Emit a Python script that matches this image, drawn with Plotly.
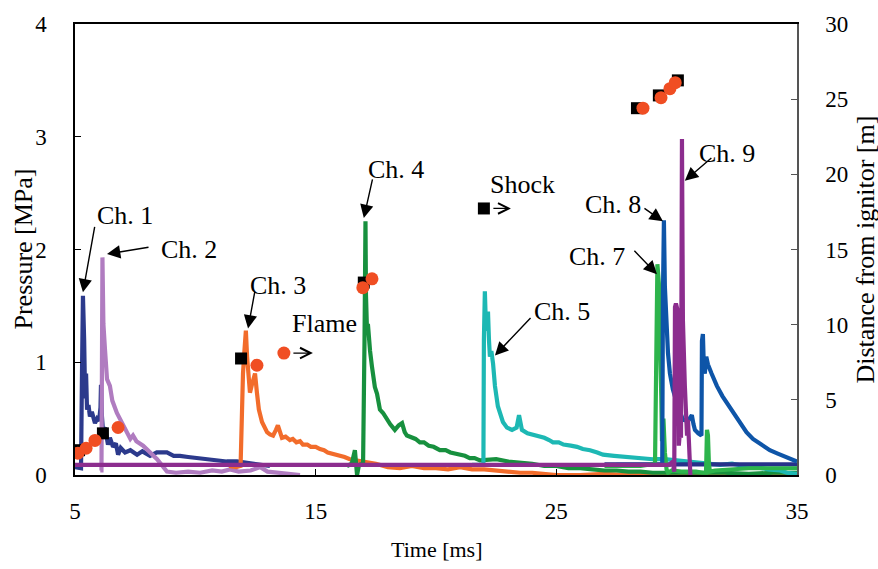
import plotly.graph_objects as go

# ---------------- data (time in ms, pressure in MPa) ----------------
ch1_t = [5.00, 5.15, 5.25, 5.29, 5.33, 5.38, 5.42, 5.46, 5.50, 5.56, 5.62, 5.70, 5.83, 5.92, 6.00,
         6.06, 6.08, 6.12, 6.16, 6.25, 6.37, 6.45, 6.58, 6.70, 6.79, 6.90, 7.08, 7.30, 7.58, 7.80,
         8.12, 8.40, 8.82, 9.10, 9.36, 9.70, 10.07, 10.50, 10.90, 11.30, 11.73, 12.40, 13.10]
ch1_p = [0.07, 0.06, 0.06, 0.90, 1.59, 1.20, 0.68, 0.90, 0.58, 0.62, 0.52, 0.56, 0.46, 0.50, 0.48,
         0.60, 0.80, 0.52, 0.40, 0.42, 0.27, 0.33, 0.25, 0.28, 0.18, 0.24, 0.20, 0.22, 0.18, 0.21,
         0.17, 0.20, 0.20, 0.17, 0.17, 0.16, 0.15, 0.14, 0.13, 0.12, 0.12, 0.10, 0.08]

ch2_t = [6.05, 6.10, 6.14, 6.18, 6.25, 6.33, 6.45, 6.55, 6.74, 6.90, 7.05, 7.16, 7.30, 7.41, 7.55,
         7.83, 8.10, 8.41, 8.82, 9.20, 9.70, 10.20, 10.70, 11.10, 11.44, 11.80, 12.30, 12.70, 13.00,
         13.50, 14.00, 14.35]
ch2_p = [0.04, 0.04, 1.93, 1.34, 1.10, 0.85, 0.79, 0.66, 0.55, 0.48, 0.42, 0.38, 0.32, 0.35, 0.30,
         0.26, 0.20, 0.14, 0.03, 0.02, 0.03, 0.02, 0.04, 0.03, 0.05, 0.03, 0.04, 0.07, 0.03,
         0.02, 0.01, 0.00]

ch3_t = [11.40, 11.70, 11.88, 11.92, 11.98, 12.04, 12.10, 12.15, 12.19, 12.27, 12.35, 12.40, 12.48,
         12.56, 12.64, 12.77, 12.98, 13.10, 13.23, 13.35, 13.43, 13.60, 13.75, 13.93, 14.05, 14.20,
         14.35, 14.47, 14.65, 14.80, 15.00, 15.18, 15.35, 15.50, 15.70, 15.88, 16.05, 16.20, 16.42,
         16.70, 16.97, 17.50, 18.00, 18.50, 19.00, 19.50, 20.00, 20.50, 21.00, 21.50, 22.00, 22.50,
         23.00, 23.50, 24.00, 24.50, 25.00, 26.00, 27.00, 28.00, 29.00, 30.00, 31.00, 32.00, 33.00,
         34.00, 35.00]
ch3_p = [0.08, 0.07, 0.08, 0.64, 0.90, 1.10, 1.28, 1.05, 0.95, 0.73, 0.80, 0.84, 0.90,
         0.73, 0.58, 0.47, 0.38, 0.36, 0.35, 0.40, 0.44, 0.33, 0.34, 0.31, 0.32, 0.29,
         0.30, 0.27, 0.27, 0.25, 0.25, 0.23, 0.22, 0.20, 0.19, 0.18, 0.17, 0.16, 0.14,
         0.13, 0.12, 0.10, 0.07, 0.06, 0.08, 0.06, 0.06, 0.05, 0.07, 0.05, 0.05, 0.04,
         0.03, 0.02, 0.02, 0.01, 0.00, 0.00, 0.01, 0.00, 0.00, 0.00, 0.00, 0.01, 0.00,
         0.00, 0.00]

ch4_t = [16.30, 16.50, 16.63, 16.68, 16.72, 16.80, 16.97, 17.03, 17.07, 17.09, 17.11, 17.13, 17.17,
         17.22, 17.26, 17.34, 17.46, 17.55, 17.67, 17.80, 17.96, 18.10, 18.29, 18.45, 18.59, 18.70,
         18.79, 19.00, 19.15, 19.33, 19.50, 19.70, 19.90, 20.16, 20.40, 20.60, 20.80, 21.00, 21.20,
         21.40, 21.60, 21.83, 22.50, 23.00, 23.50, 24.00, 24.50, 25.00, 25.50, 26.00, 26.50, 27.00,
         27.50, 28.00, 28.50, 29.00, 30.00, 31.00, 32.00, 33.00, 34.00, 35.00]
ch4_p = [0.08, 0.10, 0.22, 0.08, 0.00, 0.09, 0.10, 1.20, 2.25, 1.60, 1.52, 1.30, 1.34,
         1.15, 1.10, 0.96, 0.78, 0.72, 0.58, 0.55, 0.49, 0.45, 0.40, 0.44, 0.46, 0.38,
         0.35, 0.33, 0.32, 0.29, 0.29, 0.26, 0.25, 0.22, 0.22, 0.20, 0.19, 0.18, 0.17,
         0.15, 0.15, 0.13, 0.14, 0.12, 0.11, 0.10, 0.08, 0.08, 0.06, 0.06, 0.05, 0.04,
         0.04, 0.03, 0.03, 0.02, 0.02, 0.02, 0.02, 0.01, 0.02, 0.02]

ch5_t = [21.50, 21.97, 21.99, 22.03, 22.08, 22.12, 22.16, 22.20, 22.24, 22.30, 22.37, 22.45, 22.57,
         22.78, 22.95, 23.16, 23.35, 23.45, 23.57, 23.80, 24.00, 24.19, 24.35, 24.50, 24.70, 24.86,
         25.10, 25.30, 25.60, 25.86, 26.10, 26.40, 26.70, 26.94, 27.40, 27.93, 28.50, 29.01, 29.50,
         30.00, 30.50, 31.00, 31.40, 31.80, 32.30, 32.80, 33.30, 33.80, 34.30, 34.58, 35.00]
ch5_p = [0.09, 0.09, 1.20, 1.63, 1.28, 1.35, 1.45, 1.20, 1.05, 1.10, 0.99, 0.79, 0.61,
         0.47, 0.42, 0.40, 0.42, 0.53, 0.40, 0.37, 0.36, 0.35, 0.34, 0.33, 0.31, 0.29,
         0.29, 0.27, 0.26, 0.25, 0.23, 0.22, 0.20, 0.18, 0.17, 0.16, 0.15, 0.14, 0.14,
         0.13, 0.12, 0.11, 0.10, 0.09, 0.10, 0.08, 0.07, 0.05, 0.04, 0.02, 0.01]

ch6_t = [27.00, 35.00]
ch6_p = [0.095, 0.095]

ch7_t = [27.00, 28.50, 29.10, 29.16, 29.20, 29.26, 29.30, 29.36, 29.39, 29.45, 29.51, 29.58, 29.64,
         29.80, 30.20, 30.80, 31.10, 31.22, 31.26, 31.30, 31.34, 31.38, 31.60, 32.20, 33.00, 34.00, 35.00]
ch7_p = [0.08, 0.08, 0.10, 1.20, 1.87, 1.70, 1.00, 0.70, 0.30, 0.50, 0.20, 0.05, 0.02,
         0.04, 0.03, 0.03, 0.02, 0.02, 0.40, 0.35, 0.10, 0.03, 0.04, 0.05, 0.06, 0.06, 0.06]

ch8_t = [27.50, 29.40, 29.43, 29.47, 29.51, 29.55, 29.60, 29.64, 29.72, 29.84, 30.05, 30.26, 30.47,
         30.63, 30.70, 30.76, 30.90, 31.03, 31.05, 31.09, 31.13, 31.17, 31.23, 31.30, 31.45, 31.67,
         31.90, 32.09, 32.35, 32.63, 32.90, 33.17, 33.50, 33.87, 34.20, 34.58, 34.91, 35.00]
ch8_p = [0.09, 0.09, 1.60, 2.26, 1.67, 1.49, 1.20, 1.08, 0.90, 0.76, 0.61, 0.49, 0.48,
         0.53, 0.45, 0.40, 0.37, 0.35, 1.19, 1.25, 0.95, 0.90, 1.05, 0.98, 0.90, 0.79,
         0.70, 0.64, 0.55, 0.46, 0.38, 0.32, 0.27, 0.22, 0.19, 0.16, 0.13, 0.12]

ch9_t = [5.00, 8.00, 12.00, 16.00, 20.00, 24.00, 28.00, 29.70, 29.84, 29.90, 29.93, 29.97, 30.05,
         30.09, 30.14, 30.18, 30.22, 30.26, 30.34, 30.43, 30.47, 30.52, 30.57]
ch9_p = [0.09, 0.09, 0.09, 0.09, 0.09, 0.09, 0.09, 0.09, 0.12, 0.03, 1.49, 1.52, 1.45,
         0.26, 0.40, 0.33, 2.98, 1.37, 0.79, 0.35, 0.49, 0.10, 0.00]

# shock / flame arrival (time in ms, distance from ignitor in m)
shock_t = [5.17, 6.16, 11.90, 17.00, 28.35, 29.26, 30.05]
shock_d = [1.65, 2.77, 7.75, 12.80, 24.40, 25.25, 26.25]
flame_t = [5.12, 5.46, 5.83, 6.79, 12.56, 16.96, 17.34, 28.60, 29.35, 29.72, 29.94]
flame_d = [1.45, 1.78, 2.30, 3.16, 7.30, 12.46, 13.05, 24.40, 25.10, 25.70, 26.10]

# legend key markers (time, distance)
key_shock = (21.99, 17.73)
key_flame = (13.68, 8.11)

x_ticks = [5, 15, 25, 35]

# channel label annotations: name, tip (t, P), arrow tail offset px, label centre (t, P)
labels = [
    ("Ch. 1", (5.33, 1.62), (12, -67), (7.08, 2.30)),
    ("Ch. 2", (6.33, 1.96), (43, -7), (9.74, 2.00)),
    ("Ch. 3", (12.19, 1.30), (7, -38), (13.43, 1.68)),
    ("Ch. 4", (17.00, 2.28), (9, -40), (18.34, 2.71)),
    ("Ch. 5", (22.45, 1.06), (37, -39), (25.23, 1.45)),
    ("Ch. 7", (29.18, 1.78), (-24, -25), (26.69, 1.94)),
    ("Ch. 8", (29.43, 2.25), (-20, -14), (27.35, 2.40)),
    ("Ch. 9", (30.34, 2.61), (28, -24), (32.09, 2.85)),
]

FONT = "Liberation Serif, Times New Roman, serif"

series = [
    ("Ch. 1", ch1_t, ch1_p, "#2c3a8c"),
    ("Ch. 2", ch2_t, ch2_p, "#b07cc0"),
    ("Ch. 3", ch3_t, ch3_p, "#f26c2b"),
    ("Ch. 4", ch4_t, ch4_p, "#17903e"),
    ("Ch. 5", ch5_t, ch5_p, "#1db8b4"),
    ("Ch. 6", ch6_t, ch6_p, "#27318a"),
    ("Ch. 7", ch7_t, ch7_p, "#2db44b"),
    ("Ch. 8", ch8_t, ch8_p, "#0e55a8"),
    ("Ch. 9", ch9_t, ch9_p, "#8c2d8e"),
]

fig = go.Figure()
for name, t, p, c in series:
    fig.add_trace(go.Scatter(x=t, y=p, mode="lines", name=name,
                             line=dict(color=c, width=4.2), yaxis="y"))

fig.add_trace(go.Scatter(x=shock_t + [key_shock[0]], y=shock_d + [key_shock[1]], mode="markers",
                         name="Shock", yaxis="y2",
                         marker=dict(symbol="square", size=12, color="black")))
fig.add_trace(go.Scatter(x=flame_t + [key_flame[0]], y=flame_d + [key_flame[1]], mode="markers",
                         name="Flame", yaxis="y2",
                         marker=dict(symbol="circle", size=13, color="#f04e23")))

ann = []
for name, tip, off, cen in labels:
    ann.append(dict(x=tip[0], y=tip[1], xref="x", yref="y", ax=off[0], ay=off[1],
                    axref="pixel", ayref="pixel", text="", showarrow=True,
                    arrowhead=2, arrowsize=1.9, arrowwidth=1.4, arrowcolor="black"))
    ann.append(dict(x=cen[0], y=cen[1], xref="x", yref="y", text=name, showarrow=False,
                    font=dict(family=FONT, size=26, color="black"),
                    xanchor="center", yanchor="middle"))

# key texts and arrows
ann.append(dict(x=23.61, y=2.58, xref="x", yref="y", text="Shock", showarrow=False,
                font=dict(family=FONT, size=26, color="black")))
ann.append(dict(x=15.35, y=1.34, xref="x", yref="y", text="Flame", showarrow=False,
                font=dict(family=FONT, size=26, color="black")))
ann.append(dict(x=key_shock[0], y=key_shock[1], xref="x", yref="y2", xshift=27, ax=-19, ay=0,
                axref="pixel", ayref="pixel", text="", showarrow=True, arrowhead=5,
                arrowsize=1.6, arrowwidth=1.3, arrowcolor="black"))
ann.append(dict(x=key_flame[0], y=key_flame[1], xref="x", yref="y2", xshift=29, ax=-21, ay=0,
                axref="pixel", ayref="pixel", text="", showarrow=True, arrowhead=5,
                arrowsize=1.6, arrowwidth=1.3, arrowcolor="black"))

# axis titles
ann.append(dict(x=0.5, y=0, xref="paper", yref="paper", yshift=-74, text="Time [ms]",
                showarrow=False, yanchor="middle", font=dict(family=FONT, size=22, color="black")))
ann.append(dict(x=0, y=0.5, xref="paper", yref="paper", xshift=-52, text="Pressure [MPa]",
                textangle=-90, showarrow=False, xanchor="center",
                font=dict(family=FONT, size=26, color="black")))
ann.append(dict(x=1, y=0.5, xref="paper", yref="paper", xshift=68, text="Distance from ignitor [m]",
                textangle=-90, showarrow=False, xanchor="center",
                font=dict(family=FONT, size=26, color="black")))

fig.update_layout(
    width=878, height=569,
    margin=dict(l=75, r=81, t=18, b=94),
    paper_bgcolor="white", plot_bgcolor="white",
    showlegend=False,
    font=dict(family=FONT, size=22, color="black"),
    xaxis=dict(range=[5, 35], tickvals=x_ticks, ticks="inside", ticklen=6, tickcolor="black",
               showline=True, linecolor="black", linewidth=1.5, mirror=True, showgrid=False,
               zeroline=False, ticklabelstandoff=15, tickfont=dict(size=23)),
    yaxis=dict(range=[0, 4], dtick=1, ticks="inside", ticklen=6, tickcolor="black",
               showline=True, linecolor="black", linewidth=1.5, showgrid=False, zeroline=False,
               ticklabelstandoff=22, tickfont=dict(size=23)),
    yaxis2=dict(range=[0, 30], dtick=5, ticks="inside", ticklen=6, tickcolor="#555",
                overlaying="y", side="right", showline=True, linecolor="#555", linewidth=1.5,
                showgrid=False, zeroline=False, ticklabelstandoff=22, tickfont=dict(size=23)),
    annotations=ann,
)

fig.write_html("out.html", config={"displayModeBar": False})

# remove the browser's default page margin so the figure sits at the window origin
with open("out.html", "r", encoding="utf-8") as f:
    html = f.read()
html = html.replace("<head>", "<head><style>html,body{margin:0;padding:0;overflow:hidden;}</style>", 1)
with open("out.html", "w", encoding="utf-8") as f:
    f.write(html)
